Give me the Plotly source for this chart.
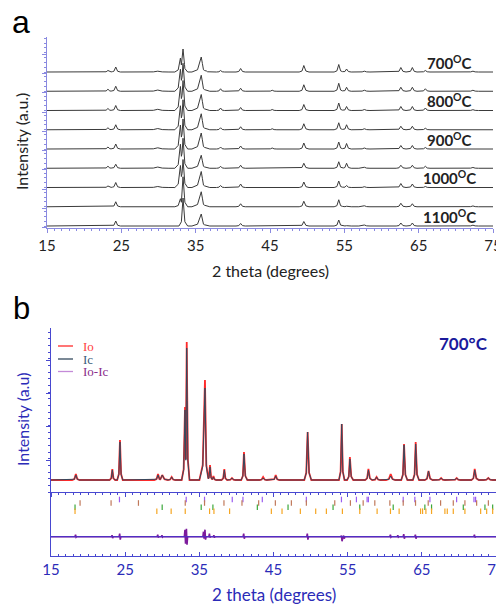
import numpy as np
import plotly.graph_objects as go

# page offset of the plot inside the browser body (default 8px body margin)
OFF = 8
W, H = 504 - OFF, 604 - OFF

# ---------------- Panel a data ----------------
temps_a = [700, 750, 800, 850, 900, 950, 1000, 1050, 1100]
labelled_a = [700, 800, 900, 1000, 1100]
peak_pos_a = [18.2, 23.2, 24.25, 29.9, 32.95, 33.3, 35.75, 36.4, 38.35, 41.05, 45.3,
              49.55, 54.25, 55.3, 57.7, 62.6, 64.15, 65.9, 72.3]
peak_wl_a = [0.25, 0.25, 0.25, 0.6, 0.3, 0.22, 0.5, 0.2, 0.22, 0.25, 0.25,
             0.25, 0.25, 0.22, 0.3, 0.25, 0.25, 0.25, 0.3]
peak_wr_a = [0.25, 0.25, 0.25, 0.6, 0.22, 0.25, 0.3, 0.2, 0.22, 0.25, 0.25,
             0.28, 0.25, 0.25, 0.3, 0.28, 0.25, 0.25, 0.3]
heights_a = {
    700:  [0.5, 1.5, 5, 0.8, 14, 23, 15, 1.5, 1.5, 3.5, 0.5, 6.5, 7.5, 3, 0.8, 4.5, 4.5, 1.5, 0.8],
    750:  [0.5, 2, 5, 1.2, 22, 28, 16, 1, 2.5, 3, 1, 6.5, 8, 4, 1, 4, 4, 2.5, 1],
    800:  [0.5, 2, 5, 1.2, 24, 30, 16, 1, 2.5, 3, 1, 6, 7.5, 4, 1, 4, 4, 2.5, 0.8],
    850:  [0.5, 2, 5, 1.2, 24, 30, 16, 1, 2, 3, 1, 6, 7, 5, 1, 3.5, 3.5, 1.5, 0.5],
    900:  [0.5, 2, 5, 1.2, 24, 30, 16, 1, 2, 3, 1, 6, 7, 5.5, 1, 3.5, 3.5, 1.5, 0.5],
    950:  [0.5, 2, 4, 1.2, 24, 30, 13, 1, 2, 3, 0.5, 5, 6.5, 5, 1, 3, 3, 2, 0.8],
    1000: [0.5, 1.5, 5, 1, 22, 28, 16, 1, 2, 3.5, 0.5, 5.5, 6.5, 2, 0.8, 4, 3.5, 1, 0.5],
    1050: [0.3, 0, 5, 0.6, 8, 30, 15, 1, 0, 3, 0.3, 5.5, 7, 0.5, 1, 3.5, 3, 0.5, 0.8],
    1100: [0.3, 0, 5, 0.5, 0, 28, 12, 1, 0, 2.5, 0.3, 4.5, 6, 0.3, 1, 3, 3, 0.3, 0.8],
}
offset_a = 19.25

# ---------------- Panel b data ----------------
peak_pos_b = [18.35, 23.27, 24.3, 29.43, 30.0, 31.27, 33.07, 33.3, 35.76, 36.44, 36.9,
              38.37, 39.4, 41.02, 43.6, 45.3, 49.6, 54.2, 55.3, 57.8, 58.9, 60.8,
              62.6, 64.17, 65.9, 67.6, 69.7, 72.13, 73.96]
peak_wl_b = [0.2, 0.15, 0.15, 0.2, 0.25, 0.2, 0.18, 0.12, 0.3, 0.15, 0.15,
             0.15, 0.2, 0.15, 0.2, 0.2, 0.18, 0.15, 0.15, 0.18, 0.2, 0.25,
             0.15, 0.15, 0.2, 0.2, 0.2, 0.18, 0.25]
peak_wr_b = [0.2, 0.15, 0.15, 0.2, 0.3, 0.2, 0.12, 0.15, 0.18, 0.15, 0.15,
             0.15, 0.2, 0.18, 0.2, 0.2, 0.2, 0.15, 0.18, 0.2, 0.2, 0.25,
             0.18, 0.18, 0.22, 0.2, 0.2, 0.22, 0.25]
io_heights = [6, 11, 40, 6, 5, 3, 73, 138, 100, 15, 4, 11, 2, 28, 3, 5, 48, 56, 23, 11, 3, 6,
              36, 38, 9, 2, 2, 11, 2]
ic_heights = [5, 10, 38, 5, 5, 3, 70, 132, 92, 13, 3, 10, 2, 26, 2, 4, 48, 56, 21, 10, 3, 4,
              35, 36, 9, 2, 2, 10, 2]
base_b = 12

bragg_purple = [24.23, 33.23, 35.70, 39.44, 40.88, 43.49, 49.43, 54.16, 56.18, 57.62, 57.80,
                62.49, 64.06, 66.09, 69.69, 72.03, 72.25]
bragg_brown = [18.92, 23.10, 26.79, 33.10, 35.70, 38.32, 40.75, 43.0, 45.25, 47.41, 49.43,
               53.26, 55.37, 57.09, 58.66, 60.69, 62.49, 64.15, 65.86, 67.53, 69.24, 70.81,
               72.39, 73.97]
bragg_green = [18.24, 29.99, 35.25, 36.83, 42.82, 46.96, 53.03, 56.63, 61.14, 65.41, 66.31,
               70.59, 73.51, 74.55]
bragg_orange = [18.24, 29.27, 31.2, 33.1, 36.38, 36.97, 39.08, 44.71, 46.15, 48.62, 50.69,
                52.13, 54.29, 56.63, 58.97, 60.77, 61.94, 64.83, 65.1, 65.55, 66.31, 68.11,
                68.43, 69.24, 70.81, 72.93, 73.74, 74.55]
bragg_rows = [(bragg_purple, 56.5, '#9a5cf0'), (bragg_brown, 53, '#c0785a'),
              (bragg_green, 48.8, '#3aa83a'), (bragg_orange, 44.8, '#f5a623')]

diff_pos = [18.35, 23.27, 24.3, 29.43, 30.0, 33.1, 33.3, 35.6, 35.8, 36.4, 37.0, 41.02, 49.6,
            54.2, 54.5, 60.8, 61.8, 62.6, 64.17, 72.13]
diff_up = [2, 1.5, 3, 2, 1.5, 7, 8, 5, 7, 3, 1.5, 3, 3, 1, 1, 2, 1.5, 2.5, 2, 2]
diff_down = [0.5, 1.5, 3, 1, 0.5, 7, 8, 2, 3, 1, 1, 2, 3, 4.5, 2, 0.5, 0.5, 2, 2, 1]
diff_base = 19.3


def profile(pos, wl, wr, hts):
    xs = {15.0, 75.0}
    for p, a, b, h in zip(pos, wl, wr, hts):
        if h > 0:
            xs.update([p - 2.5 * a, p - a, p, p + b, p + 2.5 * b])
    xs = np.array(sorted(xs))
    ys = np.zeros_like(xs)
    for p, a, b, h in zip(pos, wl, wr, hts):
        if h > 0:
            vx = [p - 2.5 * a, p - a, p, p + b, p + 2.5 * b]
            vy = [0, 0.15 * h, h, 0.15 * h, 0]
            ys = np.maximum(ys, np.interp(xs, vx, vy, left=0, right=0))
    return xs, ys


def fx(p):
    return (p - OFF) / W


def fy(p):
    return 1 - (p - OFF) / H


fig = go.Figure()

# Panel a traces
n = len(temps_a)
for i, t in enumerate(temps_a):
    base = (n - 1 - i) * offset_a
    xs, ys = profile(peak_pos_a, peak_wl_a, peak_wr_a, heights_a[t])
    fig.add_trace(go.Scatter(x=xs, y=ys + base, mode='lines', xaxis='x', yaxis='y',
                             line=dict(color='#3a3a3a', width=1), showlegend=False,
                             hoverinfo='skip'))

# Panel b upper traces
xo, yo = profile(peak_pos_b, peak_wl_b, peak_wr_b, io_heights)
fig.add_trace(go.Scatter(x=xo, y=yo + base_b, mode='lines', xaxis='x2', yaxis='y2',
                         line=dict(color='#ff2a2a', width=1.8), showlegend=False))
xc, yc = profile(peak_pos_b, peak_wl_b, peak_wr_b, ic_heights)
fig.add_trace(go.Scatter(x=xc, y=yc + base_b, mode='lines', xaxis='x2', yaxis='y2',
                         line=dict(color='#34495e', width=1), showlegend=False))

# Bragg ticks
for vals, yv, col in bragg_rows:
    fig.add_trace(go.Scatter(x=vals, y=[yv] * len(vals), mode='markers', xaxis='x3', yaxis='y3',
                             marker=dict(symbol='line-ns', size=4, line=dict(color=col, width=1.2)),
                             showlegend=False))

# Difference curve
dx, dy = [15.0], [0.0]
for p, u, d in zip(diff_pos, diff_up, diff_down):
    dx += [p - 0.12, p - 0.04, p + 0.04, p + 0.12]
    dy += [0, u, -d, 0]
dx.append(75.0)
dy.append(0.0)
order = np.argsort(dx, kind='stable')
dx = np.array(dx)[order]
dy = np.array(dy)[order] + diff_base
fig.add_trace(go.Scatter(x=dx, y=dy, mode='lines', xaxis='x3', yaxis='y3',
                         line=dict(color='#7d1b9c', width=1.6), showlegend=False))
fig.add_trace(go.Scatter(x=[15, 75], y=[diff_base, diff_base], mode='lines', xaxis='x3', yaxis='y3',
                         line=dict(color='#3a3ad8', width=0.8), showlegend=False))

# ---------------- Layout ----------------
ca = '#8a8ae0'
cb = '#4848d0'
tb = '#2b2bb8'
fa = 'Lato'

xa_dom = [fx(47), fx(493)]
ya_dom = [fy(228), fy(37)]
xb_dom = [fx(51), fx(496)]
yb_up = [fy(492), fy(328)]
yb_lo = [fy(556), fy(492)]


def xax(dom, anchor, col, show_labels, tcol, ticks='outside', side='bottom', overlay=None):
    d = dict(domain=dom, anchor=anchor, range=[15, 75], dtick=10, tick0=15, automargin=False,
             ticks=ticks, ticklen=4, tickcolor=col, tickwidth=1, showline=True, linecolor=col,
             linewidth=1, showgrid=False, zeroline=False, showticklabels=show_labels,
             ticklabeloverflow='allow',
             tickfont=dict(family=fa, size=15, color=tcol), side=side,
             minor=dict(dtick=1, ticks=ticks, ticklen=2, tickcolor=col, showgrid=False))
    if overlay:
        d['overlaying'] = overlay
    return d


def yax(dom, anchor, col, rng, dtick, tick0, nminor, ticks='outside', side='left', overlay=None):
    d = dict(domain=dom, anchor=anchor, range=rng, dtick=dtick, tick0=tick0, ticks=ticks,
             ticklen=4, tickcolor=col, showline=True, linecolor=col, linewidth=1, automargin=False,
             showgrid=False, zeroline=False, showticklabels=False, side=side,
             minor=dict(dtick=dtick / nminor, ticks=ticks, ticklen=2, tickcolor=col, showgrid=False))
    if overlay:
        d['overlaying'] = overlay
    return d


fig.update_layout(
    width=W, height=H, autosize=False, margin=dict(l=0, r=0, t=0, b=0, pad=0, autoexpand=False),
    paper_bgcolor='white', plot_bgcolor='white', showlegend=False,
    xaxis=xax(xa_dom, 'y', ca, True, '#222222'),
    yaxis=yax(ya_dom, 'x', ca, [-2, 189], 19.25, 17.7, 4),
    xaxis4=xax(xa_dom, 'y', ca, False, '#222222', ticks='inside', side='top', overlay='x'),
    yaxis4=yax(ya_dom, 'x', ca, [-2, 189], 19.25, 17.7, 4, ticks='inside', side='right', overlay='y'),
    xaxis2=xax(xb_dom, 'y2', cb, False, tb, ticks='outside'),
    yaxis2=yax(yb_up, 'x2', cb, [0, 164], 33.3, 32, 5),
    xaxis5=xax(xb_dom, 'y2', cb, False, tb, ticks='inside', side='top', overlay='x2'),
    yaxis5=yax(yb_up, 'x2', cb, [0, 164], 33.3, 32, 5, ticks='inside', side='right', overlay='y2'),
    xaxis3=xax(xb_dom, 'y3', cb, True, tb, ticks='inside'),
    yaxis3=dict(domain=yb_lo, anchor='x3', range=[0, 64], showline=True, linecolor=cb, automargin=False,
                mirror=True, ticks='', showticklabels=False, showgrid=False, zeroline=False),
)

ann = [
    dict(text='a', x=fx(21), y=fy(22), font=dict(family='Liberation Sans', size=32, color='black')),
    dict(text='b', x=fx(21), y=fy(308), font=dict(family='Liberation Sans', size=31, color='black')),
    dict(text='2 theta (degrees)', x=fx(270), y=fy(270), font=dict(family=fa, size=16, color='#222222')),
    dict(text='Intensity (a.u.)', x=fx(21), y=fy(142), textangle=-90,
         font=dict(family=fa, size=16, color='#222222')),
    dict(text='Intensity (a.u)', x=fx(22), y=fy(420), textangle=-90,
         font=dict(family=fa, size=16, color=tb)),
    dict(text='2 theta (degrees)', x=fx(274), y=fy(594), font=dict(family=fa, size=17, color=tb)),
    dict(text='<b>700°C</b>', x=fx(463), y=fy(343), font=dict(family=fa, size=17, color='#1a1a9c')),
]
for a in ann:
    a.update(xref='paper', yref='paper', showarrow=False, xanchor='center', yanchor='middle')
    fig.add_annotation(**a)

for i, t in enumerate(temps_a):
    if t in labelled_a:
        base = (n - 1 - i) * offset_a
        fig.add_annotation(x=69.2, y=base + 9.5, xref='x', yref='y', showarrow=False,
                           text=f'<b>{t}<sup>O</sup>C</b>', xanchor='center', yanchor='middle',
                           font=dict(family=fa, size=15, color='#222222'))

# Legend in panel b
legend_items = [('Io', '#ff2a2a', '#ff4040', 346), ('Ic', '#34495e', '#3b5a78', 359),
                ('Io-Ic', '#c48ad8', '#8b2c8b', 371.5)]
for name, lc, tc, yp in legend_items:
    fig.add_shape(type='line', xref='paper', yref='paper', x0=fx(58), x1=fx(73),
                  y0=fy(yp), y1=fy(yp), line=dict(color=lc, width=1.3))
    fig.add_annotation(text=name, x=fx(81), y=fy(yp), xref='paper', yref='paper',
                       showarrow=False, xanchor='left', yanchor='middle',
                       font=dict(family='Liberation Serif', size=13, color=tc))

fig.write_html('out.html')
